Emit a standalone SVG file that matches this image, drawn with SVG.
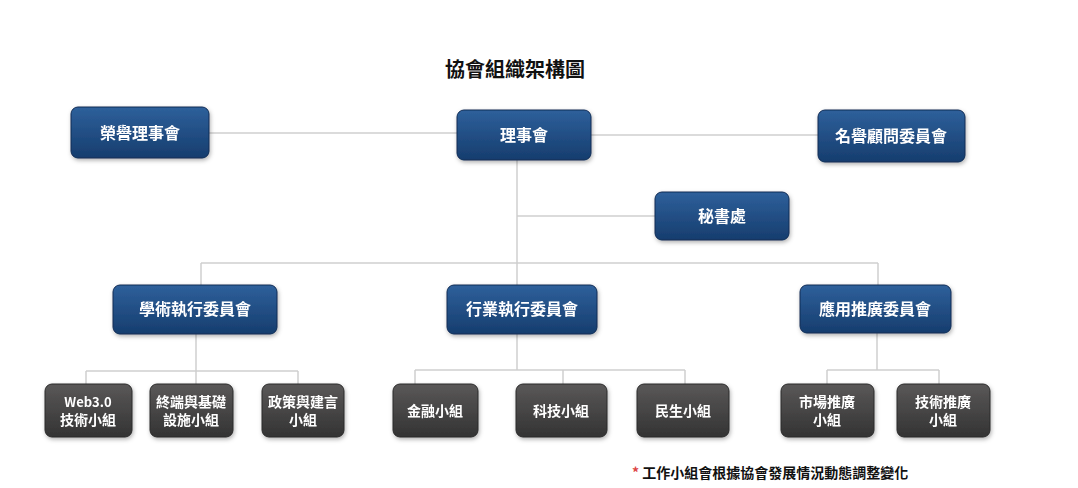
<svg xmlns="http://www.w3.org/2000/svg" width="1078" height="488" viewBox="0 0 1078 488">
<style>
.t{font-family:"Noto Sans CJK TC","Noto Sans CJK SC",sans-serif;font-weight:bold;fill:#fff;text-anchor:middle}
.b{fill:url(#gb);stroke:#0f2c55;stroke-width:1}
.g{fill:url(#gg);stroke:#2a2a2a;stroke-width:1}
.c{fill:none;stroke:#cfcfcf;stroke-width:1.5}
</style>
<defs>
<linearGradient id="gb" x1="0" y1="0" x2="0" y2="1"><stop offset="0" stop-color="#2e609b"/><stop offset="1" stop-color="#163d6e"/></linearGradient>
<linearGradient id="gg" x1="0" y1="0" x2="0" y2="1"><stop offset="0" stop-color="#5a5858"/><stop offset="1" stop-color="#333"/></linearGradient>
<filter id="sh" x="-10%" y="-10%" width="130%" height="140%"><feDropShadow dx="1" dy="2" stdDeviation="2" flood-color="#000" flood-opacity="0.3"/></filter>
</defs>
<rect width="1078" height="488" fill="#fff"/>
<text x="515" y="77" font-family="'Noto Sans CJK TC','Noto Sans CJK SC',serif" font-weight="bold" font-size="20" text-anchor="middle" fill="#111">協會組織架構圖</text>
<g id="connectors">
<path class="c" d="M209 133H457M591 135H818M517 160V285M517 216H655M201 263H878M201 263V285M878 263V285"/>
<path class="c" d="M196 334V371M86 371H298M86 371V384M196 371V384M298 371V384"/>
<path class="c" d="M517 334V370M415 370H685M415 370V384M563 370V384M685 370V384"/>
<path class="c" d="M877 333V370M827 370H939M827 370V384M939 370V384"/>
</g>
<g filter="url(#sh)">
<g id="n1"><rect class="b" x="71" y="107" width="138" height="51" rx="7"/><text class="t" x="140" y="139" font-size="16">榮譽理事會</text></g>
<g id="n2"><rect class="b" x="457" y="110" width="134" height="50" rx="7"/><text class="t" x="524" y="141" font-size="16">理事會</text></g>
<g id="n3"><rect class="b" x="818" y="110" width="147" height="52" rx="7"/><text class="t" x="891" y="142" font-size="16">名譽顧問委員會</text></g>
<g id="n4"><rect class="b" x="655" y="192" width="134" height="48" rx="7"/><text class="t" x="722" y="222" font-size="16">秘書處</text></g>
<g id="n5"><rect class="b" x="113" y="285" width="164" height="49" rx="7"/><text class="t" x="195" y="315" font-size="16">學術執行委員會</text></g>
<g id="n6"><rect class="b" x="447" y="285" width="150" height="49" rx="7"/><text class="t" x="522" y="315" font-size="16">行業執行委員會</text></g>
<g id="n7"><rect class="b" x="800" y="285" width="151" height="48" rx="7"/><text class="t" x="875" y="315" font-size="16">應用推廣委員會</text></g>
<g id="s1"><rect class="g" x="45" y="384" width="87" height="53" rx="7"/><text class="t" font-size="13" x="88" y="407">Web3.0</text><text class="t" font-size="14" x="88" y="425">技術小組</text></g>
<g id="s2"><rect class="g" x="150" y="384" width="83" height="53" rx="7"/><text class="t" font-size="14" x="191" y="407">終端與基礎</text><text class="t" font-size="14" x="191" y="425">設施小組</text></g>
<g id="s3"><rect class="g" x="262" y="384" width="82" height="53" rx="7"/><text class="t" font-size="14" x="303" y="407">政策與建言</text><text class="t" font-size="14" x="303" y="425">小組</text></g>
<g id="s4"><rect class="g" x="393" y="384" width="85" height="53" rx="7"/><text class="t" font-size="14" x="435" y="416">金融小組</text></g>
<g id="s5"><rect class="g" x="516" y="384" width="91" height="53" rx="7"/><text class="t" font-size="14" x="561" y="416">科技小組</text></g>
<g id="s6"><rect class="g" x="637" y="384" width="92" height="53" rx="7"/><text class="t" font-size="14" x="683" y="416">民生小組</text></g>
<g id="s7"><rect class="g" x="781" y="384" width="93" height="53" rx="7"/><text class="t" font-size="14" x="827" y="407">市場推廣</text><text class="t" font-size="14" x="827" y="425">小組</text></g>
<g id="s8"><rect class="g" x="897" y="384" width="93" height="53" rx="7"/><text class="t" font-size="14" x="943" y="407">技術推廣</text><text class="t" font-size="14" x="943" y="425">小組</text></g>
</g>
<text x="632" y="478" font-family="'Noto Sans CJK TC','Noto Sans CJK SC',sans-serif" font-weight="bold" font-size="14" fill="#111"><tspan fill="#d44">*</tspan> 工作小組會根據協會發展情況動態調整變化</text>
</svg>
